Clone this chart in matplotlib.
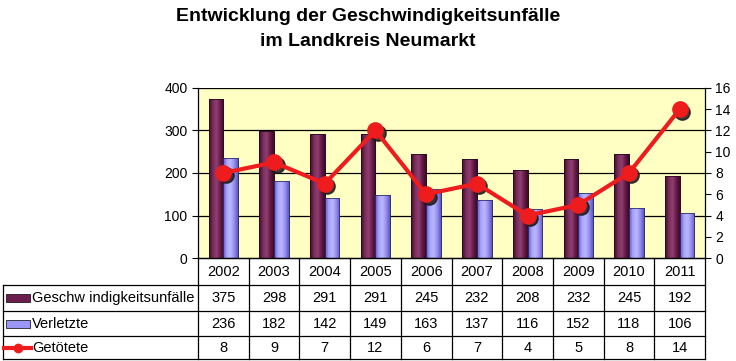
import matplotlib
matplotlib.use("Agg")
import matplotlib.pyplot as plt
import numpy as np
from matplotlib.transforms import blended_transform_factory
from matplotlib.patches import Rectangle
from matplotlib.colors import LinearSegmentedColormap

years = ["2002", "2003", "2004", "2005", "2006", "2007", "2008", "2009", "2010", "2011"]
unfaelle = [375, 298, 291, 291, 245, 232, 208, 232, 245, 192]
verletzte = [236, 182, 142, 149, 163, 137, 116, 152, 118, 106]
getoetete = [8, 9, 7, 12, 6, 7, 4, 5, 8, 14]
series_names = ["Geschw indigkeitsunfälle", "Verletzte", "Getötete"]
title = "Entwicklung der Geschwindigkeitsunfälle\nim Landkreis Neumarkt"

plt.rcParams['font.family'] = ['Liberation Sans', 'DejaVu Sans']

W, H = 736, 361
fig = plt.figure(figsize=(W / 100, H / 100), dpi=100)
fig.patch.set_facecolor("white")

L, R, T, B = 198, 705, 88, 258
ax = fig.add_axes([L / W, 1 - B / H, (R - L) / W, (B - T) / H])
ax.set_facecolor("#FFFFC4")
x = np.arange(len(years))
bw = 0.29
c1, c2 = "#6E1E4E", "#9B95F5"
cm1 = LinearSegmentedColormap.from_list("m", ["#3e0c28", "#7a2a5a", "#8e4072", "#6a1c4a", "#3a0a26"])
cm2 = LinearSegmentedColormap.from_list("p", ["#5a54c0", "#a8a2ff", "#bcb8ff", "#9690f0", "#5e58c4"])
bars1 = ax.bar(x - bw / 2, unfaelle, bw, color=c1, edgecolor="#2a0a1e", linewidth=0.6, zorder=2)
bars2 = ax.bar(x + bw / 2, verletzte, bw, color=c2, edgecolor="#303070", linewidth=0.6, zorder=2)
grad = np.linspace(0, 1, 64).reshape(1, -1)
for bars, cm in [(bars1, cm1), (bars2, cm2)]:
    for b in bars:
        x0, y0 = b.get_x(), b.get_y()
        im = ax.imshow(grad, cmap=cm, aspect="auto", extent=(x0, x0 + b.get_width(), y0, y0 + b.get_height()),
                       zorder=2.1, interpolation="bilinear")
        im.set_clip_path(b)
    for b in bars:
        ax.add_patch(Rectangle((b.get_x(), b.get_y()), b.get_width(), b.get_height(), fill=False,
                               edgecolor=b.get_edgecolor(), lw=0.6, zorder=2.2))
ax.set_xlim(-0.5, len(years) - 0.5)
ax.set_ylim(0, 400)
ax.set_yticks([0, 100, 200, 300, 400])
for yv in [100, 200, 300, 400]:
    ax.axhline(yv, color="black", linewidth=0.9, zorder=1)
ax.set_xticks([])
ax.tick_params(axis="y", labelsize=10, length=4, direction="out")
for s in ["top", "right"]:
    ax.spines[s].set_visible(False)
ax.spines["left"].set_linewidth(0.9)
ax.spines["bottom"].set_linewidth(0.9)

ax2 = ax.twinx()
ax2.set_ylim(0, 16)
ax2.set_yticks(range(0, 17, 2))
ax2.tick_params(axis="y", labelsize=10, length=4, direction="out")
for s in ["top", "left", "bottom"]:
    ax2.spines[s].set_visible(False)
ax2.spines["right"].set_linewidth(0.9)
# shadow
ax2.plot(x + 0.05, np.array(getoetete) - 0.22, "o", color="#1a1a1a", markersize=11, zorder=3, alpha=0.85)
ax2.plot(x, getoetete, "-o", color="#EE1C1C", linewidth=3, markersize=11, zorder=4)

# title
fig.text(0.5, 1 - 29 / H, title, ha="center", va="center", fontsize=14,
         fontweight="bold", linespacing=1.55)

# table
tr = blended_transform_factory(ax.transData, fig.transFigure)
ftr = fig.transFigure
rows_y = [258, 285, 311, 336, 359]
def fy(p):
    return 1 - p / H
lw = 0.9
fig.add_artist(plt.Line2D([L / W, R / W], [fy(rows_y[0])] * 2, color="black", lw=lw, transform=ftr))
for ry in rows_y[1:]:
    fig.add_artist(plt.Line2D([3 / W, R / W], [fy(ry)] * 2, color="black", lw=lw, transform=ftr))
for i in range(len(years) + 1):
    xv = L + (R - L) * i / len(years)
    fig.add_artist(plt.Line2D([xv / W] * 2, [fy(rows_y[0]), fy(rows_y[-1])], color="black", lw=lw, transform=ftr))
fig.add_artist(plt.Line2D([3 / W] * 2, [fy(rows_y[1]), fy(rows_y[-1])], color="black", lw=lw, transform=ftr))

fs = 10.5
for i, yr in enumerate(years):
    yc = (rows_y[0] + rows_y[1]) / 2
    ax.text(x[i], fy(yc), yr, transform=tr, ha="center", va="center", fontsize=fs)
for r, vals in enumerate([unfaelle, verletzte, getoetete]):
    yc = (rows_y[r + 1] + rows_y[r + 2]) / 2
    for i, v in enumerate(vals):
        ax.text(x[i], fy(yc), str(v), transform=tr, ha="center", va="center", fontsize=fs)
    fig.text(32 / W, fy(yc), series_names[r], ha="left", va="center", fontsize=fs)

for r, c in enumerate([c1, c2]):
    yc = (rows_y[r + 1] + rows_y[r + 2]) / 2
    fig.add_artist(Rectangle((6 / W, fy(yc + 4)), 24 / W, 8 / H, transform=ftr,
                             facecolor=c, edgecolor="black", lw=0.5))
yc = (rows_y[3] + rows_y[4]) / 2
fig.add_artist(plt.Line2D([4 / W, 31 / W], [fy(yc)] * 2, color="#EE1C1C", lw=3, transform=ftr))
fig.add_artist(plt.Line2D([17.5 / W], [fy(yc)], marker="o", color="#EE1C1C", markersize=6, transform=ftr))

fig.savefig("out.png", dpi=100)
